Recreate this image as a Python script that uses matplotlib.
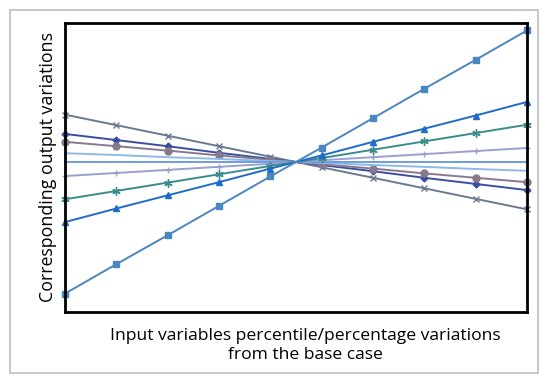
import matplotlib
matplotlib.use('Agg')
import matplotlib.pyplot as plt
from matplotlib.patches import Rectangle
import numpy as np

plt.rcParams['font.family'] = ['Open Sans', 'DejaVu Sans']

# ten input variation steps (no tick labels in the original)
steps = np.arange(10)

# output variations per input variable
sq_vals = [-30.0, -23.3, -16.7, -10.0, -3.3, 3.3, 10.0, 16.7, 23.3, 30.0]
tri_vals = [-13.7, -10.6, -7.6, -4.6, -1.5, 1.5, 4.6, 7.6, 10.6, 13.7]
star_vals = [-8.5, -6.6, -4.7, -2.8, -0.9, 0.9, 2.8, 4.7, 6.6, 8.5]
plus_vals = [-3.2, -2.5, -1.8, -1.1, -0.4, 0.4, 1.1, 1.8, 2.5, 3.2]
flat_vals = [0, 0, 0, 0, 0, 0, 0, 0, 0, 0]
light_vals = [2.0, 1.6, 1.1, 0.7, 0.2, -0.2, -0.7, -1.1, -1.6, -2.0]
circ_vals = [4.6, 3.6, 2.6, 1.5, 0.5, -0.5, -1.5, -2.6, -3.6, -4.6]
diam_vals = [6.4, 5.0, 3.6, 2.1, 0.7, -0.7, -2.1, -3.6, -5.0, -6.4]
x_vals = [10.8, 8.4, 6.0, 3.6, 1.2, -1.2, -3.6, -6.0, -8.4, -10.8]

fig = plt.figure(figsize=(5.5, 3.83), dpi=100)
ax = fig.add_axes([0.1182, 0.1854, 0.84, 0.7546])

series = [
    (x_vals, '#6A7A92', 'x', 5),
    (diam_vals, '#3A4FA0', 'D', 3.5),
    (circ_vals, '#877A8C', 'o', 5),
    (light_vals, '#8DB8E8', None, 0),
    (flat_vals, '#6F9CE0', None, 0),
    (plus_vals, '#9AA0D0', '+', 5),
    (star_vals, '#3A8C8C', (6, 2, 0), 6),
    (tri_vals, '#1F6CC8', '^', 5),
    (sq_vals, '#4A86C0', 's', 5),
]
for vals, col, mk, ms in series:
    ax.plot(steps, vals, color=col, lw=1.4, marker=mk, markersize=ms,
            markeredgewidth=1.0, clip_on=False)

ax.set_xlim(0, 9)
ax.set_ylim(-34.2, 31.7)
ax.set_xticks([])
ax.set_yticks([])
for s in ax.spines.values():
    s.set_linewidth(2)
    s.set_color('black')

ax.set_ylabel('Corresponding output variations', fontsize=12.8, labelpad=6)
fig.text(0.556, 0.098, 'Input variables percentile/percentage variations\nfrom the base case',
         ha='center', va='center', fontsize=12.6, linespacing=1.18)

# light grey frame around the whole chart
fig.patches.append(Rectangle((0.0182, 0.0261), 0.96, 0.948, transform=fig.transFigure,
                             fill=False, edgecolor='#BFBFBF', lw=1.2))

fig.savefig('out.png', dpi=100)
